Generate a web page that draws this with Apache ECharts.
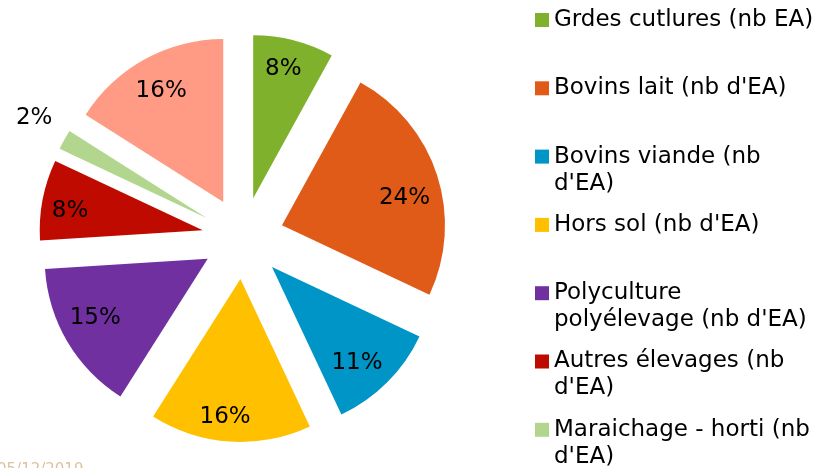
<!DOCTYPE html>
<html>
<head>
<meta charset="utf-8">
<script src="https://cdn.jsdelivr.net/npm/echarts@6/dist/echarts.min.js"></script>
<style>
  html, body { margin: 0; padding: 0; background: #ffffff; }
  #chart { width: 817px; height: 468px; }
</style>
</head>
<body>
<div id="chart"></div>
<script>
// ---- Data ----
const categories = [
  "Grdes cutlures (nb EA)",
  "Bovins lait (nb d'EA)",
  "Bovins viande (nb d'EA)",
  "Hors sol (nb d'EA)",
  "Polyculture polyélevage (nb d'EA)",
  "Autres élevages (nb d'EA)",
  "Maraichage - horti (nb d'EA)",
  "Autres (nb d'EA)"
];
const legendLabels = [
  "Grdes cutlures (nb EA)",
  "Bovins lait (nb d'EA)",
  "Bovins viande (nb\nd'EA)",
  "Hors sol (nb d'EA)",
  "Polyculture\npolyélevage (nb d'EA)",
  "Autres élevages (nb\nd'EA)",
  "Maraichage - horti (nb\nd'EA)"
];
const values = [8, 24, 11, 16, 15, 8, 2, 16];
const dateText = "05/12/2019";

// ---- Styles ----
const colors = ["#80b12c", "#e05a18", "#0095c7", "#ffc000", "#7030a0", "#bf0a00", "#b2d68e", "#ff9b85"];
const labelNudge = [[-3, 0], [-4, 14], [-9, 2], [-7, 5], [2, -9], [-2, 6], [5, -2], [2, 6]];
const FONT = "DejaVu Sans";
const CENTER = [243, 238];
const R = 163;
const OFFSET = 41;

// horizontal nudge via asymmetric padding, vertical nudge via an empty line of chosen height
const nudgePad = ([dx]) => [0, Math.max(0, -2 * dx), 0, Math.max(0, 2 * dx)];
const nudgeLabel = i => {
  const dy = labelNudge[i][1];
  const o = { padding: nudgePad(labelNudge[i]) };
  if (dy !== 0) o.lineHeight = 2 * Math.abs(dy);
  return o;
};
const pct = p => {
  const s = Math.round(p.percent) + '%';
  const dy = labelNudge[p.dataIndex][1];
  return dy > 0 ? '\n' + s : dy < 0 ? s + '\n' : s;
};

function pieData(extra) {
  return categories.map((name, i) => Object.assign({ name: name, value: values[i], selected: true }, extra ? extra(i) : {}));
}

const baseSeries = {
  type: 'pie',
  center: CENTER,
  startAngle: 90,
  clockwise: true,
  selectedMode: 'multiple',
  selectedOffset: OFFSET,
  animation: false,
  emphasis: { disabled: true },
  labelLine: { show: false }
};

const labelStyle = { show: true, position: 'inside', formatter: pct, fontFamily: FONT, fontSize: 23, color: '#000' };

const series = [
  Object.assign({}, baseSeries, {
    name: 'main',
    radius: [0, R],
    label: { show: false },
    data: pieData(i => ({ itemStyle: { color: colors[i] } }))
  }),
  Object.assign({}, baseSeries, {
    name: 'labels',
    radius: [97, R],
    silent: true,
    itemStyle: { color: 'rgba(0,0,0,0)' },
    label: labelStyle,
    data: pieData(i => ({ label: values[i] < 5 ? { show: false } : nudgeLabel(i) }))
  }),
  Object.assign({}, baseSeries, {
    name: 'outerLabels',
    radius: [R, 237],
    silent: true,
    itemStyle: { color: 'rgba(0,0,0,0)' },
    label: labelStyle,
    data: pieData(i => ({ label: values[i] < 5 ? nudgeLabel(i) : { show: false } }))
  })
];

const legends = legendLabels.map((lbl, i) => {
  const twoLine = lbl.indexOf('\n') >= 0;
  const iconCenter = 20 + i * 68.3;
  return {
    data: [categories[i]],
    left: 535,
    top: iconCenter - (twoLine ? 40.5 : 13.5),
    orient: 'vertical',
    padding: 0,
    itemWidth: 14,
    itemHeight: 14,
    icon: 'rect',
    selectedMode: false,
    formatter: () => (twoLine ? '\n' + lbl : lbl),
    textStyle: { fontFamily: FONT, fontSize: 23, color: '#000', lineHeight: 27 }
  };
});

const chart = echarts.init(document.getElementById('chart'));
chart.setOption({
  backgroundColor: '#ffffff',
  color: colors,
  animation: false,
  legend: legends,
  series: series,
  graphic: [{
    type: 'text', left: -3, top: 463,
    style: { text: dateText, font: '15px "DejaVu Sans"', fill: '#dcc3a0' }
  }]
});
</script>
</body>
</html>
